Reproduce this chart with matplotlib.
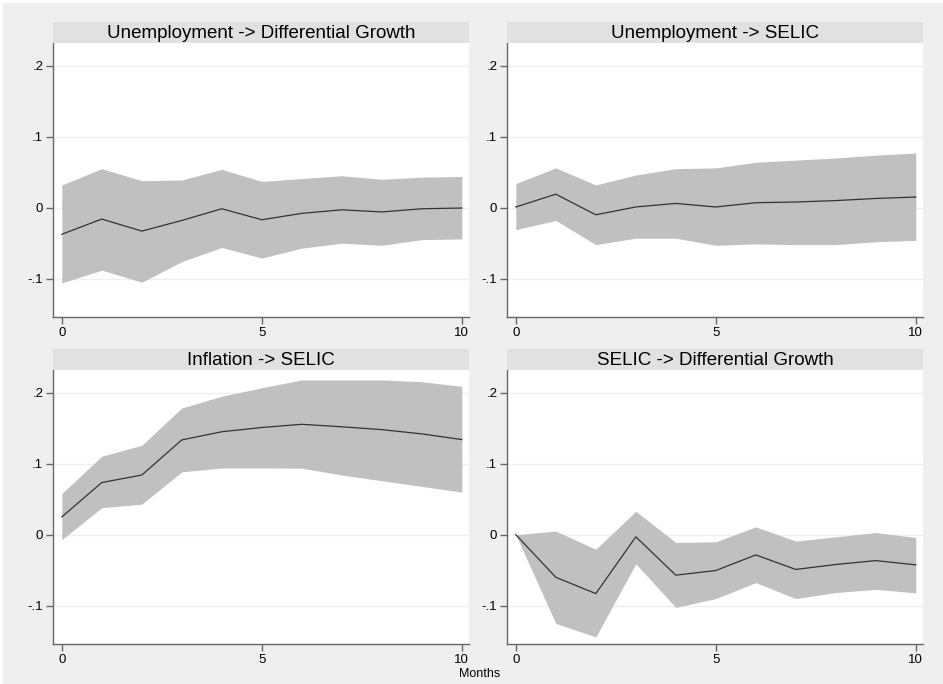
import matplotlib.pyplot as plt
import numpy as np
from matplotlib.patches import Rectangle

plt.rcParams['font.family'] = ['Liberation Sans', 'DejaVu Sans']

months = np.arange(0, 11)

titles = [
  'Unemployment -> Differential Growth',
  'Unemployment -> SELIC',
  'Inflation -> SELIC',
  'SELIC -> Differential Growth',
]

# impulse responses with lower / upper bands
irf_unemp_growth = [-0.0375, -0.016, -0.033, -0.018, -0.0015, -0.017, -0.008, -0.003, -0.006, -0.0015, -0.0005]
lo_unemp_growth = [-0.106, -0.088, -0.105, -0.076, -0.056, -0.071, -0.057, -0.050, -0.053, -0.045, -0.044]
hi_unemp_growth = [0.032, 0.055, 0.038, 0.039, 0.054, 0.037, 0.041, 0.045, 0.040, 0.043, 0.044]

irf_unemp_selic = [0.001, 0.019, -0.010, 0.001, 0.006, 0.001, 0.007, 0.008, 0.010, 0.013, 0.015]
lo_unemp_selic = [-0.031, -0.018, -0.052, -0.043, -0.043, -0.053, -0.051, -0.052, -0.052, -0.048, -0.046]
hi_unemp_selic = [0.034, 0.056, 0.032, 0.046, 0.055, 0.056, 0.064, 0.067, 0.070, 0.074, 0.077]

irf_infl_selic = [0.025, 0.0735, 0.084, 0.1335, 0.145, 0.151, 0.1555, 0.152, 0.148, 0.142, 0.134]
lo_infl_selic = [-0.007, 0.038, 0.043, 0.0885, 0.094, 0.094, 0.0937, 0.084, 0.076, 0.068, 0.060]
hi_infl_selic = [0.058, 0.1105, 0.126, 0.1785, 0.195, 0.207, 0.218, 0.218, 0.218, 0.2155, 0.209]

irf_selic_growth = [0.0, -0.060, -0.083, -0.003, -0.057, -0.0505, -0.0285, -0.049, -0.042, -0.0365, -0.0425]
lo_selic_growth = [0.0, -0.125, -0.144, -0.041, -0.1025, -0.090, -0.0675, -0.090, -0.0815, -0.077, -0.082]
hi_selic_growth = [0.0, 0.005, -0.0205, 0.033, -0.011, -0.010, 0.011, -0.009, -0.003, 0.003, -0.004]

series = [
  (irf_unemp_growth, lo_unemp_growth, hi_unemp_growth),
  (irf_unemp_selic, lo_unemp_selic, hi_unemp_selic),
  (irf_infl_selic, lo_infl_selic, hi_infl_selic),
  (irf_selic_growth, lo_selic_growth, hi_selic_growth),
]

W, H = 943, 684
fig = plt.figure(figsize=(W / 100, H / 100), dpi=100, facecolor='white')
fig.patches.append(Rectangle((3 / W, 0), 1, 1 - 3 / H, transform=fig.transFigure,
                             facecolor='#efefef', edgecolor='none', zorder=-10))

# panel boxes in pixels: left, top of plot area, width, height
lefts = [53, 507]
tops = [43, 370]
pw, ph = 416, 274
bar_h = 21

for k, (title, (irf, lo, hi)) in enumerate(zip(titles, series)):
  left = lefts[k % 2]
  top = tops[k // 2]
  ax = fig.add_axes([left / W, 1 - (top + ph) / H, pw / W, ph / H])
  ax.set_facecolor('white')
  ax.fill_between(months, lo, hi, color='#c0c0c0', linewidth=0, zorder=2)
  ax.plot(months, irf, color='#333333', linewidth=0.9, zorder=3)
  ax.set_xlim(-0.22, 10.18)
  ax.set_ylim(-0.154, 0.232)
  ax.set_xticks([0, 5, 10])
  ax.set_xticklabels(['0', '5', '10'])
  ax.set_yticks([-0.1, 0, 0.1, 0.2])
  ax.set_yticklabels(['-.1', '0', '.1', '.2'])
  ax.grid(axis='y', color='#efefef', linewidth=1.0, zorder=1)
  ax.set_axisbelow(True)
  for s in ['top', 'right']:
    ax.spines[s].set_visible(False)
  for s in ['left', 'bottom']:
    ax.spines[s].set_color('#666666')
    ax.spines[s].set_linewidth(1.0)
  ax.tick_params(axis='both', colors='#666666', labelcolor='black', labelsize=9.5,
                 length=5, width=1.0, pad=2)

  # title strip above each panel
  tax = fig.add_axes([left / W, 1 - top / H, pw / W, bar_h / H])
  tax.set_facecolor('#e1e1e1')
  tax.set_xticks([])
  tax.set_yticks([])
  for s in tax.spines.values():
    s.set_visible(False)
  tax.text(0.5, 0.45, title, ha='center', va='center', fontsize=13.5, transform=tax.transAxes)

fig.text(480 / W, 1 - 674 / H, 'Months', ha='center', va='center', fontsize=9)

fig.savefig('out.png', dpi=100, facecolor=fig.get_facecolor())
